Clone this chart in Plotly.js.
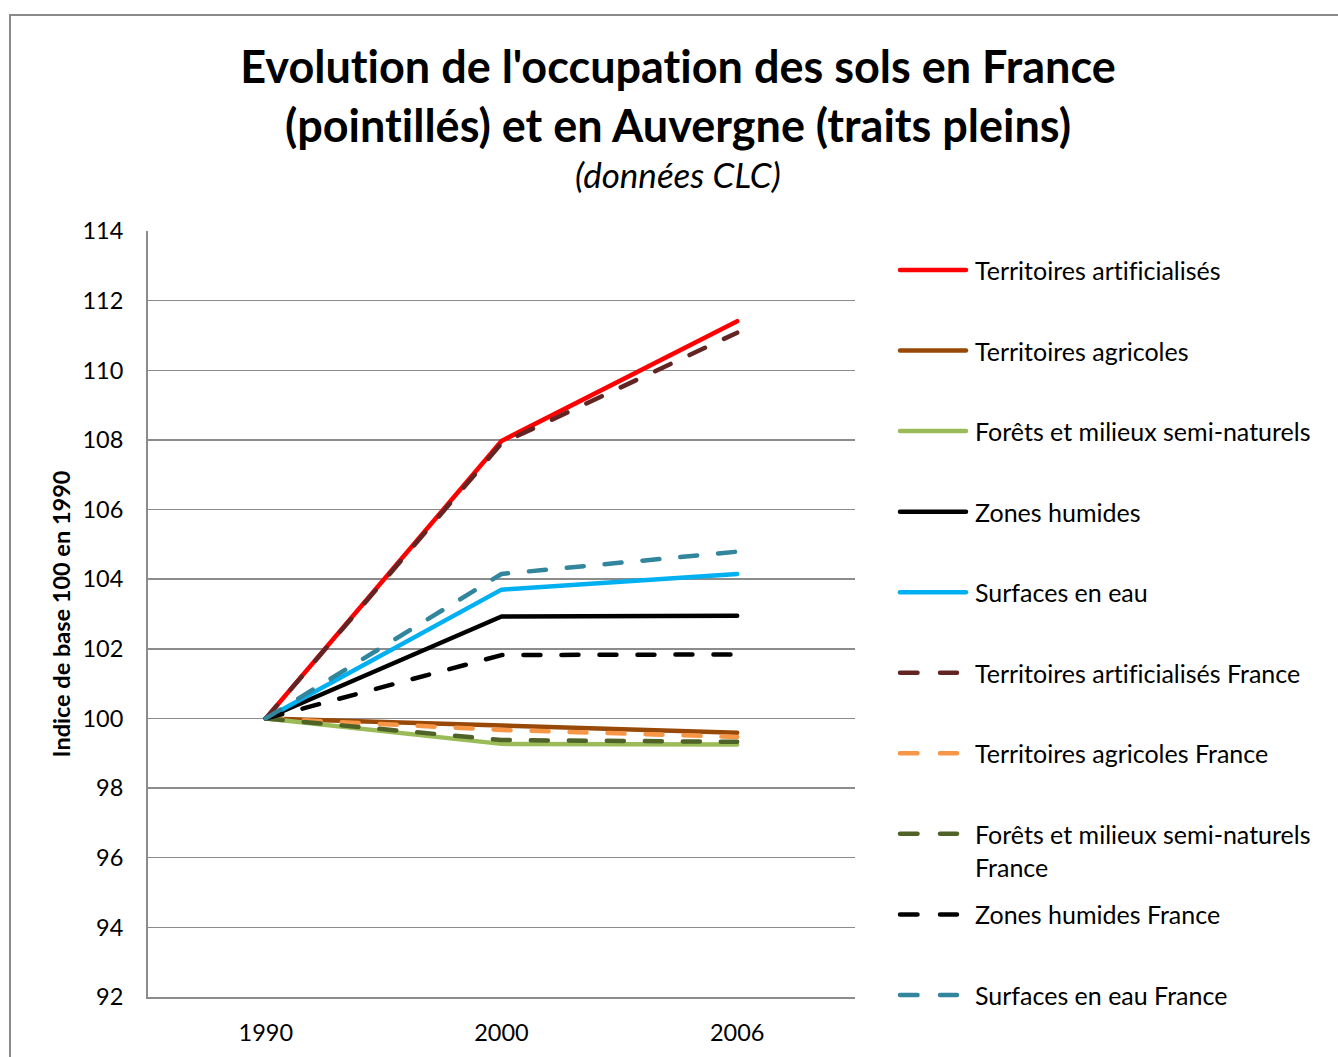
<!DOCTYPE html>
<html><head><meta charset="utf-8">
<script src="https://cdn.plot.ly/plotly-3.0.1.min.js"></script>
<style>
body{margin:0;overflow:hidden;background:#fff}
#frame{position:absolute;left:9px;top:14px;width:2000px;height:2000px;border-left:2px solid #8a8a8a;border-top:2px solid #8a8a8a;pointer-events:none}
svg text{font-variant-ligatures:none;font-feature-settings:"liga" 0, "clig" 0, "dlig" 0}
.scatterlayer path.js-line, .shapelayer path{stroke-linecap:round;stroke-linejoin:round}
</style></head>
<body>
<div id="chart" style="width:1338px;height:1057px"></div>
<div id="frame"></div>
<script>
// ---- data ----
const years = ["1990", "2000", "2006"];
const seriesNames = [
  "Territoires artificialisés",
  "Territoires agricoles",
  "Forêts et milieux semi-naturels",
  "Zones humides",
  "Surfaces en eau",
  "Territoires artificialisés France",
  "Territoires agricoles France",
  "Forêts et milieux semi-naturels<br>France",
  "Zones humides France",
  "Surfaces en eau France"
];
const artAuv = [100, 107.97, 111.41];
const agrAuv = [100, 99.79, 99.59];
const forAuv = [100, 99.27, 99.25];
const humAuv = [100, 102.93, 102.95];
const eauAuv = [100, 103.70, 104.15];
const artFr  = [100, 107.90, 111.08];
const agrFr  = [100, 99.67, 99.47];
const forFr  = [100, 99.38, 99.33];
const humFr  = [100, 101.82, 101.84];
const eauFr  = [100, 104.15, 104.79];
const yTicks = [92, 94, 96, 98, 100, 102, 104, 106, 108, 110, 112, 114];

// ---- styles ----
const values = [artAuv, agrAuv, forAuv, humAuv, eauAuv, artFr, agrFr, forFr, humFr, eauFr];
const colors = ["#FF0000", "#984807", "#9BBB59", "#000000", "#00B0F0",
                "#632523", "#F79646", "#4F6228", "#000000", "#31859C"];
const dashes = ["solid","solid","solid","solid","solid",
                "17px,21px","17px,21px","17px,21px","17px,21px","17px,21px"];
const FONT = "Lato, 'Open Sans', sans-serif";

const traces = values.map((v, i) => ({
  type: "scatter", mode: "lines", x: years, y: v,
  name: seriesNames[i].replace("<br>", " "),
  line: {color: colors[i], width: 4.5, dash: dashes[i]},
  showlegend: false
}));

// plot area geometry (px) for custom legend placement
const L = 148, R = 855, T = 231, B = 997;
const px2x = p => (p - L) / (R - L);
const py2y = p => (B - p) / (B - T);

const shapes = [];
const annotations = [];
seriesNames.forEach((n, i) => {
  const yc = 270 + i * 80.55;
  const isDash = dashes[i] !== "solid";
  shapes.push({
    type: "line", xref: "paper", yref: "paper",
    x0: px2x(900), x1: px2x(isDash ? 957 : 966),
    y0: py2y(yc), y1: py2y(yc),
    line: {color: colors[i], width: 4.5, dash: isDash ? "17.5px,22.5px" : "solid"}
  });
  const multi = n.includes("<br>");
  annotations.push({
    xref: "paper", yref: "paper", x: px2x(973), xanchor: "left",
    y: py2y(multi ? yc + 16.5 : yc), yanchor: "middle",
    text: n, showarrow: false, align: "left",
    font: {family: FONT, size: 25, color: "#000"}
  });
});
annotations.push({
  xref: "paper", yref: "paper", x: px2x(678), xanchor: "center",
  y: py2y(174), yanchor: "middle", showarrow: false,
  text: "<i>(données CLC)</i>",
  font: {family: FONT, size: 35, color: "#000"}
});

const layout = {
  width: 1338, height: 1057,
  margin: {l: L, r: 1338 - R, t: T, b: 1057 - B, pad: 0},
  paper_bgcolor: "#fff", plot_bgcolor: "#fff",
  title: {
    text: "Evolution de l'occupation des sols en France<br>(pointillés) et en Auvergne (traits pleins)",
    x: 678 / 1338, xanchor: "center", xref: "container",
    y: 1 - 83 / 1057, yanchor: "middle", yref: "container",
    font: {family: FONT, size: 45, weight: "bold", color: "#000"}
  },
  xaxis: {
    type: "category", range: [-0.5, 2.5],
    showgrid: false, zeroline: false,
    showline: true, linecolor: "#8c8c8c", linewidth: 2,
    ticks: "", ticklabelstandoff: 14,
    tickfont: {family: FONT, size: 23.5, color: "#000"}
  },
  yaxis: {
    range: [92, 114], tickvals: yTicks,
    showgrid: true, gridcolor: "#8c8c8c", gridwidth: 1.5,
    zeroline: false, showline: true, linecolor: "#8c8c8c", linewidth: 2,
    ticks: "", ticklabelstandoff: 18,
    tickfont: {family: FONT, size: 23.5, color: "#000"},
    title: {text: "Indice de base 100 en 1990", standoff: 5,
            font: {family: FONT, size: 23.5, weight: "bold", color: "#000"}}
  },
  shapes: shapes,
  annotations: annotations,
  showlegend: false
};

Plotly.newPlot("chart", traces, layout, {displayModeBar: false, staticPlot: true});
</script>
</body></html>
